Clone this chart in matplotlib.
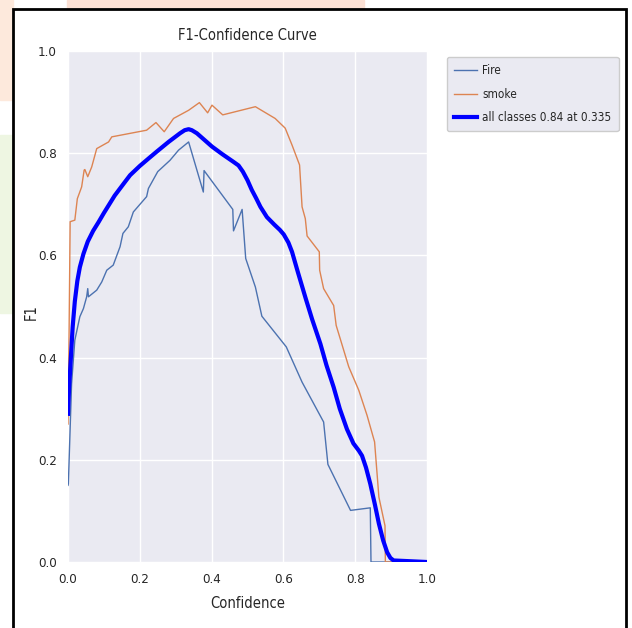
import matplotlib.pyplot as plt
from matplotlib.patches import Rectangle

# ==========================================================
# Data
# ==========================================================

fire_x = [0.0, 0.001, 0.010, 0.019, 0.033, 0.043, 0.052, 0.055, 0.057, 0.080, 0.094,
          0.108, 0.126, 0.145, 0.153, 0.168, 0.182, 0.219, 0.224, 0.250, 0.284, 0.308,
          0.336, 0.377, 0.379, 0.459, 0.461, 0.485, 0.495, 0.522, 0.540, 0.608, 0.652,
          0.712, 0.724, 0.787, 0.842, 0.844, 1.0]
fire_y = [0.15, 0.153, 0.349, 0.434, 0.480, 0.496, 0.519, 0.535, 0.519, 0.532, 0.548,
          0.571, 0.581, 0.617, 0.643, 0.656, 0.685, 0.715, 0.731, 0.764, 0.786, 0.806,
          0.822, 0.724, 0.766, 0.690, 0.648, 0.690, 0.594, 0.538, 0.481, 0.421, 0.352,
          0.274, 0.191, 0.101, 0.106, 0.0, 0.0]

smoke_x = [0.0, 0.003, 0.006, 0.019, 0.026, 0.038, 0.045, 0.047, 0.055, 0.066, 0.080,
           0.113, 0.122, 0.219, 0.245, 0.268, 0.294, 0.336, 0.366, 0.389, 0.401, 0.431,
           0.522, 0.577, 0.605, 0.624, 0.645, 0.652, 0.661, 0.666, 0.700, 0.701, 0.712,
           0.740, 0.747, 0.782, 0.810, 0.833, 0.854, 0.866, 0.883, 0.884, 1.0]
smoke_y = [0.27, 0.45, 0.666, 0.669, 0.711, 0.734, 0.767, 0.768, 0.754, 0.773, 0.809,
           0.822, 0.832, 0.845, 0.860, 0.842, 0.868, 0.884, 0.899, 0.879, 0.894, 0.875,
           0.891, 0.868, 0.849, 0.816, 0.777, 0.695, 0.672, 0.638, 0.607, 0.571, 0.535,
           0.502, 0.463, 0.382, 0.336, 0.287, 0.235, 0.127, 0.071, 0.0, 0.0]

all_x = [0.0, 0.003, 0.008, 0.013, 0.019, 0.026, 0.033, 0.043, 0.055, 0.070, 0.085,
         0.100, 0.130, 0.160, 0.173, 0.200, 0.225, 0.247, 0.280, 0.312, 0.325, 0.336,
         0.345, 0.359, 0.380, 0.401, 0.430, 0.461, 0.475, 0.487, 0.500, 0.512, 0.524,
         0.536, 0.554, 0.575, 0.590, 0.601, 0.614, 0.624, 0.640, 0.662, 0.680, 0.703,
         0.720, 0.740, 0.757, 0.777, 0.795, 0.810, 0.819, 0.830, 0.842, 0.855, 0.866,
         0.878, 0.889, 0.898, 0.907, 1.0]
all_y = [0.29, 0.34, 0.40, 0.46, 0.51, 0.55, 0.577, 0.603, 0.627, 0.648, 0.665,
         0.683, 0.717, 0.745, 0.757, 0.775, 0.790, 0.803, 0.822, 0.839, 0.845, 0.847,
         0.845, 0.839, 0.826, 0.813, 0.798, 0.783, 0.776, 0.764, 0.747, 0.728, 0.712,
         0.695, 0.675, 0.660, 0.650, 0.641, 0.625, 0.607, 0.568, 0.516, 0.475, 0.427,
         0.385, 0.342, 0.300, 0.260, 0.232, 0.218, 0.208, 0.185, 0.153, 0.112, 0.075,
         0.042, 0.019, 0.008, 0.003, 0.0]

ticks = [0.0, 0.2, 0.4, 0.6, 0.8, 1.0]

# ==========================================================
# Style
# ==========================================================

plt.rcParams["font.family"] = ["DejaVu Sans Condensed", "DejaVu Sans"]
plt.rcParams["font.stretch"] = "condensed"
TEXT = "#262626"

fig = plt.figure(figsize=(6.32, 6.28), dpi=100)

# faint page background behind the screenshot frame
fig.patches.append(Rectangle((67 / 632, 1 - 8 / 628), 297 / 632, 8 / 628,
                             transform=fig.transFigure, color="#fbe0d4", zorder=-2))
fig.patches.append(Rectangle((0, 1 - 100 / 628), 13 / 632, 100 / 628,
                             transform=fig.transFigure, color="#fde9dc", zorder=-2))
fig.patches.append(Rectangle((0, 1 - 313 / 628), 13 / 632, 178 / 628,
                             transform=fig.transFigure, color="#eef6e2", zorder=-2))
# screenshot frame
fig.patches.append(Rectangle((13 / 632, -0.02), 613 / 632, 1.02 - 9 / 628,
                             transform=fig.transFigure, fill=False,
                             edgecolor="black", linewidth=2, zorder=5))

ax = fig.add_axes([68 / 632, 1 - 562 / 628, 359 / 632, 511 / 628])
ax.set_facecolor("#EAEAF2")
for s in ax.spines.values():
    s.set_visible(False)
ax.grid(True, color="white", linewidth=1)
ax.set_axisbelow(True)

ax.plot(fire_x, fire_y, color="#4C72B0", linewidth=1, label="Fire")
ax.plot(smoke_x, smoke_y, color="#DD8452", linewidth=1, label="smoke")
ax.plot(all_x, all_y, color="blue", linewidth=3, label="all classes 0.84 at 0.335")

ax.set_xlim(0, 1)
ax.set_ylim(0, 1)
ax.set_xticks(ticks)
ax.set_yticks(ticks)
ax.tick_params(length=0, pad=8, labelsize=9.5, labelcolor=TEXT)

ax.set_title("F1-Confidence Curve", fontsize=10.5, color=TEXT, pad=8)
ax.set_xlabel("Confidence", fontsize=10.5, color=TEXT)
ax.set_ylabel("F1", fontsize=10.5, color=TEXT)
ax.xaxis.set_label_coords(0.5, -0.066)
ax.yaxis.set_label_coords(-0.082, 0.49)

leg = ax.legend(loc="upper left", bbox_to_anchor=(447 / 632, 1 - 57 / 628),
                bbox_transform=fig.transFigure, fontsize=8.5, frameon=True,
                facecolor="#EAEAF2", edgecolor="#cccccc", framealpha=1,
                handlelength=1.9, handletextpad=0.5, labelspacing=0.9,
                borderpad=0.6, borderaxespad=0)
for t in leg.get_texts():
    t.set_color(TEXT)

fig.savefig("out.png", dpi=100)
